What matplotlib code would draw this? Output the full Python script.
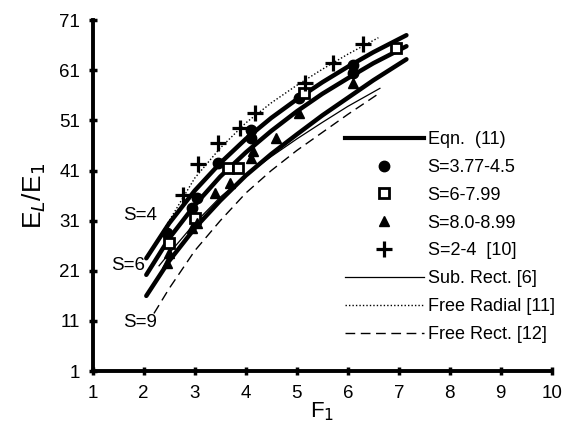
import numpy as np
import matplotlib.pyplot as plt
from matplotlib.lines import Line2D

plt.rcParams['font.family'] = ['Liberation Sans', 'DejaVu Sans']

# Eqn. (11) curves for three S values
F_eq = [2.05, 2.5, 3.0, 3.5, 4.0, 4.5, 5.0, 5.5, 6.0, 6.5, 7.15]
E_s4 = [23.5, 30.5, 37.0, 42.5, 47.3, 51.5, 55.2, 58.6, 61.7, 64.6, 68.0]
E_s6 = [20.2, 27.5, 34.1, 39.8, 44.6, 48.9, 52.8, 56.3, 59.4, 62.4, 65.8]
E_s9 = [16.0, 23.0, 29.5, 35.0, 40.0, 44.3, 48.2, 52.0, 55.5, 59.0, 63.2]

# earlier models
F_sub = [2.3, 2.5, 3.0, 3.5, 4.0, 4.5, 5.0, 5.5, 6.0, 6.63]
E_sub = [22.0, 24.5, 30.5, 35.7, 40.0, 43.8, 47.3, 50.6, 53.8, 57.4]
F_rad = [2.3, 2.5, 3.0, 3.5, 4.0, 4.5, 5.0, 5.5, 6.0, 6.6]
E_rad = [27.5, 31.0, 39.5, 45.5, 50.5, 54.5, 58.0, 61.2, 64.2, 67.5]
F_rect = [2.2, 2.5, 3.0, 3.5, 4.0, 4.5, 5.0, 5.5, 6.0, 6.6]
E_rect = [12.5, 17.5, 25.0, 31.0, 36.5, 41.0, 45.0, 48.6, 52.2, 56.3]

# test data
F_c = [2.45, 2.95, 3.05, 3.45, 4.1, 4.1, 5.05, 6.1, 6.1]
E_c = [28.5, 33.5, 35.5, 42.5, 47.5, 49.0, 55.5, 62.0, 60.5]
F_sq = [2.5, 3.0, 3.65, 3.85, 5.15, 6.95]
E_sq = [26.5, 31.5, 41.5, 41.5, 56.5, 65.5]
F_tr = [2.45, 2.5, 2.95, 3.05, 3.4, 3.7, 4.1, 4.15, 4.6, 5.05, 6.1]
E_tr = [22.5, 24.5, 29.5, 30.5, 36.5, 38.5, 43.5, 45.0, 47.5, 52.5, 58.5]
F_pl = [2.76, 3.06, 3.45, 3.88, 4.18, 5.16, 5.71, 6.29]
E_pl = [36.1, 42.4, 46.4, 49.4, 52.4, 58.4, 62.4, 66.3]

fig = plt.figure(figsize=(5.76, 4.29), dpi=100)
ax = fig.add_axes([0.161, 0.135, 0.797, 0.818])

for E in (E_s4, E_s6, E_s9):
    ax.plot(F_eq, E, color='black', lw=3.2, solid_capstyle='round')
ax.plot(F_sub, E_sub, color='black', lw=0.9)
ax.plot(F_rad, E_rad, color='black', lw=1.0, linestyle=(0, (1, 1.5)))
ax.plot(F_rect, E_rect, color='black', lw=1.0, linestyle=(0, (7, 4)))

ax.plot(F_c, E_c, 'o', color='black', ms=7.5)
ax.plot(F_sq, E_sq, 's', mfc='white', mec='black', mew=2, ms=6.5)
ax.plot(F_tr, E_tr, '^', color='black', ms=7.5)
ax.plot(F_pl, E_pl, '+', color='black', ms=12, mew=2.3)

ax.text(1.92, 32.1, 'S=4', fontsize=13.5, ha='center', va='center')
ax.text(1.69, 22.1, 'S=6', fontsize=13.5, ha='center', va='center')
ax.text(1.92, 10.6, 'S=9', fontsize=13.5, ha='center', va='center')

ax.set_xlim(1, 10)
ax.set_ylim(1, 71)
ax.set_xticks(range(1, 11))
ax.set_yticks(range(1, 72, 10))
ax.spines['top'].set_visible(False)
ax.spines['right'].set_visible(False)
ax.spines['left'].set_linewidth(2.8)
ax.spines['bottom'].set_linewidth(2.8)
ax.tick_params(direction='inout', length=6, width=2.5, labelsize=13.5)
ax.tick_params(axis='x', pad=7)
ax.tick_params(axis='y', pad=6)
ax.set_xlabel('F$_1$', fontsize=16, labelpad=-1)
ax.set_ylabel('E$_L$/E$_1$', fontsize=19, labelpad=8)

handles = [
    Line2D([], [], color='black', lw=3),
    Line2D([], [], marker='o', color='black', ls='none', ms=7.5),
    Line2D([], [], marker='s', mfc='white', mec='black', mew=2, ls='none', ms=6.5),
    Line2D([], [], marker='^', color='black', ls='none', ms=7.5),
    Line2D([], [], marker='+', color='black', ls='none', ms=12, mew=2.3),
    Line2D([], [], color='black', lw=0.9),
    Line2D([], [], color='black', lw=1.0, linestyle=(0, (1, 1.5))),
    Line2D([], [], color='black', lw=1.0, linestyle=(0, (7, 4))),
]
labels = ['Eqn.  (11)', 'S=3.77-4.5', 'S=6-7.99', 'S=8.0-8.99',
          'S=2-4  [10]', 'Sub. Rect. [6]', 'Free Radial [11]', 'Free Rect. [12]']
ax.legend(handles, labels, loc='upper left', bbox_to_anchor=(0.517, 0.725),
          frameon=False, fontsize=13, handlelength=4.4, handletextpad=0.2,
          labelspacing=0.6, borderpad=0.3)

fig.savefig('out.png', dpi=100)
